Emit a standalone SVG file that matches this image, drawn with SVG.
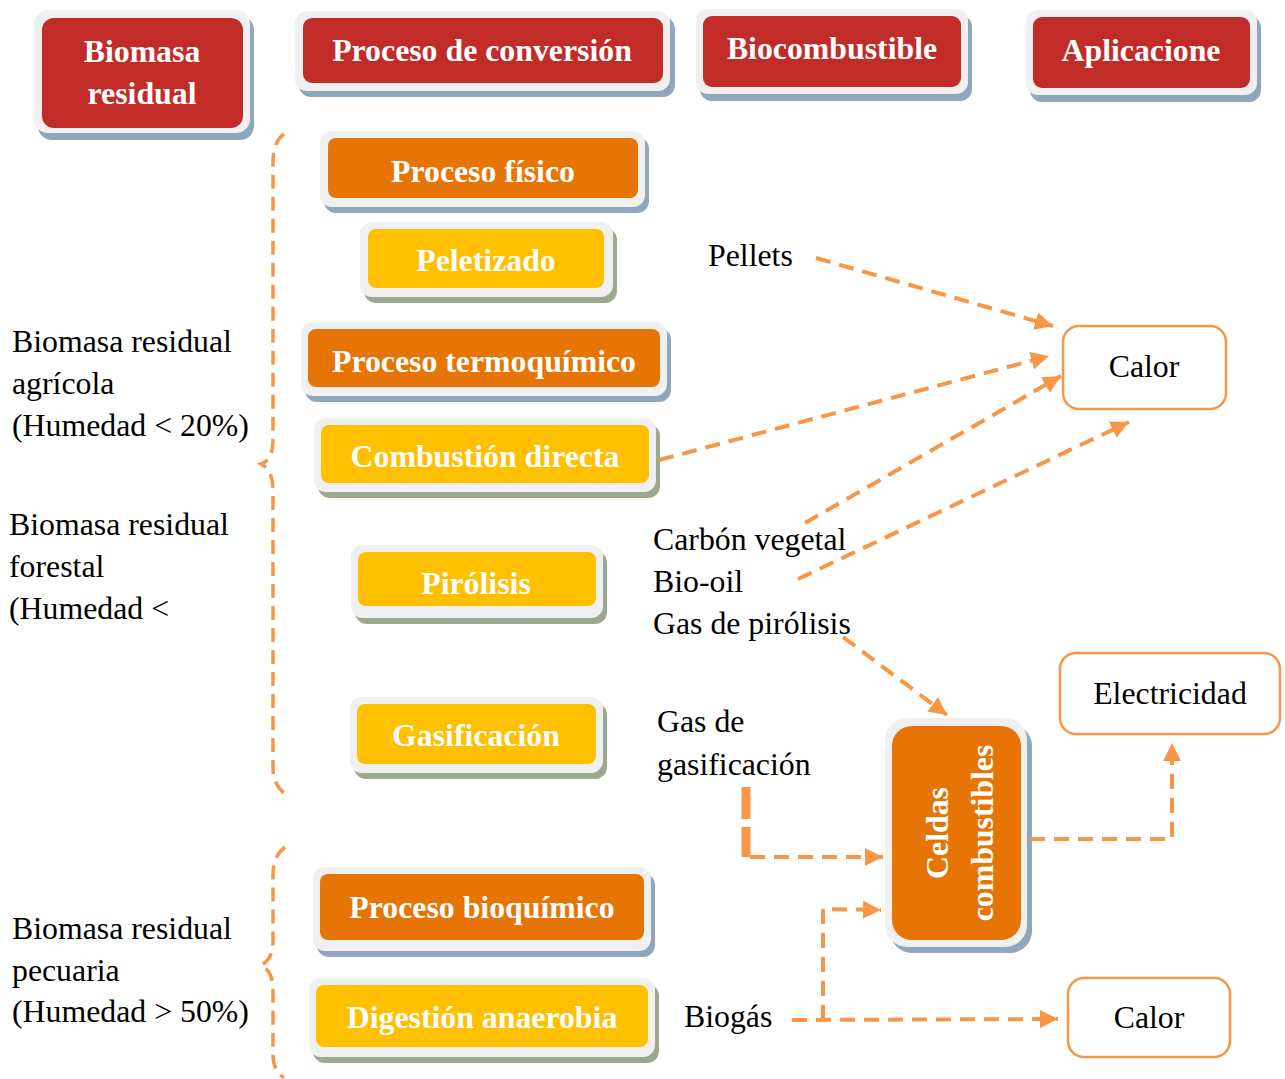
<svg xmlns="http://www.w3.org/2000/svg" width="1285" height="1079" viewBox="0 0 1285 1079">
  <style>
    .sh-b{fill:#8FA6BD}
    .sh-g{fill:#9CA98E}
    .frame{fill:#F0F0F0}
    .red{fill:#C12B28}
    .orange{fill:#E67505}
    .yellow{fill:#FFC000}
    .lbl{font-family:"Liberation Serif","Times New Roman",serif;font-weight:bold;font-size:31.8px;fill:#FFFFFF;text-anchor:middle}
    .txt{font-family:"Liberation Serif","Times New Roman",serif;font-size:31.8px;fill:#000000}
    .mid{text-anchor:middle}
    .out{fill:#FFFFFF;stroke:#F79646;stroke-width:2.5}
    .conn{fill:none;stroke:#F79646;stroke-width:4;stroke-dasharray:15 9}
    .brace{fill:none;stroke:#F79646;stroke-width:3.5;stroke-dasharray:14 8}
  </style>
  <defs>
    <marker id="arrow" markerUnits="userSpaceOnUse" markerWidth="19" markerHeight="18" refX="18" refY="9" orient="auto">
      <path d="M0,0 L18,9 L0,18 z" fill="#F79646"/>
    </marker>
  </defs>

  <!-- column headers -->
  <g id="h-biomasa">
    <rect class="sh-b" x="38" y="16" width="216" height="124" rx="14"/>
    <rect class="frame" x="34" y="10" width="216" height="123" rx="14"/>
    <rect class="red" x="42" y="18" width="201" height="110" rx="12"/>
    <text class="lbl" x="142" y="62">Biomasa</text>
    <text class="lbl" x="142" y="104">residual</text>
  </g>
  <g id="h-proceso">
    <rect class="sh-b" x="299" y="17" width="376" height="80" rx="12"/>
    <rect class="frame" x="295" y="11" width="375" height="80" rx="12"/>
    <rect class="red" x="303" y="18" width="360" height="65" rx="9"/>
    <text class="lbl" x="482" y="61">Proceso de conversión</text>
  </g>
  <g id="h-biocombustible">
    <rect class="sh-b" x="700" y="15" width="272" height="86" rx="12"/>
    <rect class="frame" x="696" y="9" width="272" height="85" rx="12"/>
    <rect class="red" x="703" y="16" width="258" height="71" rx="9"/>
    <text class="lbl" x="832" y="59">Biocombustible</text>
  </g>
  <g id="h-aplicaciones">
    <rect class="sh-b" x="1030" y="16" width="231" height="86" rx="12"/>
    <rect class="frame" x="1026" y="10" width="231" height="85" rx="12"/>
    <rect class="red" x="1033" y="17" width="217" height="71" rx="9"/>
    <text class="lbl" x="1141" y="61">Aplicacione</text>
  </g>

  <!-- process boxes -->
  <g id="p-fisico">
    <rect class="sh-b" x="324" y="137" width="325" height="76" rx="12"/>
    <rect class="frame" x="320" y="131" width="325" height="76" rx="12"/>
    <rect class="orange" x="328" y="138" width="310" height="60" rx="8"/>
    <text class="lbl" x="483" y="182">Proceso físico</text>
  </g>
  <g id="p-peletizado">
    <rect class="sh-g" x="364" y="228" width="253" height="75" rx="12"/>
    <rect class="frame" x="360" y="222" width="253" height="75" rx="12"/>
    <rect class="yellow" x="368" y="229" width="236" height="59" rx="8"/>
    <text class="lbl" x="486" y="271">Peletizado</text>
  </g>
  <g id="p-termoquimico">
    <rect class="sh-b" x="305" y="328" width="366" height="74" rx="12"/>
    <rect class="frame" x="301" y="322" width="366" height="74" rx="12"/>
    <rect class="orange" x="308" y="329" width="352" height="58" rx="8"/>
    <text class="lbl" x="484" y="372">Proceso termoquímico</text>
  </g>
  <g id="p-combustion">
    <rect class="sh-g" x="318" y="424" width="342" height="74" rx="12"/>
    <rect class="frame" x="314" y="418" width="342" height="74" rx="12"/>
    <rect class="yellow" x="321" y="425" width="328" height="58" rx="8"/>
    <text class="lbl" x="485" y="467">Combustión directa</text>
  </g>
  <g id="p-pirolisis">
    <rect class="sh-g" x="355" y="551" width="252" height="73" rx="12"/>
    <rect class="frame" x="351" y="545" width="252" height="73" rx="12"/>
    <rect class="yellow" x="358" y="552" width="238" height="54" rx="8"/>
    <text class="lbl" x="476" y="594">Pirólisis</text>
  </g>
  <g id="p-gasificacion">
    <rect class="sh-g" x="354" y="703" width="253" height="76" rx="12"/>
    <rect class="frame" x="350" y="697" width="253" height="76" rx="12"/>
    <rect class="yellow" x="357" y="704" width="239" height="60" rx="8"/>
    <text class="lbl" x="476" y="746">Gasificación</text>
  </g>
  <g id="p-bioquimico">
    <rect class="sh-b" x="317" y="873" width="338" height="84" rx="12"/>
    <rect class="frame" x="313" y="867" width="338" height="84" rx="12"/>
    <rect class="orange" x="320" y="874" width="324" height="66" rx="8"/>
    <text class="lbl" x="482" y="918">Proceso bioquímico</text>
  </g>
  <g id="p-digestion">
    <rect class="sh-g" x="313" y="984" width="346" height="79" rx="12"/>
    <rect class="frame" x="309" y="978" width="346" height="79" rx="12"/>
    <rect class="yellow" x="316" y="985" width="332" height="62" rx="8"/>
    <text class="lbl" x="482" y="1028">Digestión anaerobia</text>
  </g>
  <g id="p-celdas">
    <rect class="sh-b" x="890" y="724" width="142" height="229" rx="22"/>
    <rect class="frame" x="885" y="718" width="142" height="229" rx="22"/>
    <rect class="orange" x="892" y="726" width="129" height="214" rx="20"/>
    <text class="lbl" transform="translate(948,833) rotate(-90)">Celdas</text>
    <text class="lbl" transform="translate(993,833) rotate(-90)">combustibles</text>
  </g>

  <!-- application boxes -->
  <g id="a-calor1">
    <rect class="out" x="1063" y="326" width="163" height="83" rx="16"/>
    <text class="txt mid" x="1144" y="377">Calor</text>
  </g>
  <g id="a-electricidad">
    <rect class="out" x="1060" y="653" width="220" height="81" rx="16"/>
    <text class="txt mid" x="1170" y="704">Electricidad</text>
  </g>
  <g id="a-calor2">
    <rect class="out" x="1068" y="978" width="162" height="79" rx="16"/>
    <text class="txt mid" x="1149" y="1028">Calor</text>
  </g>

  <!-- biomass source labels -->
  <g id="s-agricola">
    <text class="txt" x="12" y="352">Biomasa residual</text>
    <text class="txt" x="12" y="394">agrícola</text>
    <text class="txt" x="12" y="436">(Humedad &lt; 20%)</text>
  </g>
  <g id="s-forestal">
    <text class="txt" x="9" y="535">Biomasa residual</text>
    <text class="txt" x="9" y="577">forestal</text>
    <text class="txt" x="9" y="619">(Humedad &lt;</text>
  </g>
  <g id="s-pecuaria">
    <text class="txt" x="12" y="939">Biomasa residual</text>
    <text class="txt" x="12" y="981">pecuaria</text>
    <text class="txt" x="12" y="1022">(Humedad &gt; 50%)</text>
  </g>

  <!-- biofuel labels -->
  <g id="f-pellets"><text class="txt" x="708" y="266">Pellets</text></g>
  <g id="f-pirolisis">
    <text class="txt" x="653" y="550">Carbón vegetal</text>
    <text class="txt" x="653" y="592">Bio-oil</text>
    <text class="txt" x="653" y="634">Gas de pirólisis</text>
  </g>
  <g id="f-gasificacion">
    <text class="txt" x="657" y="732">Gas de</text>
    <text class="txt" x="657" y="775">gasificación</text>
  </g>
  <g id="f-biogas"><text class="txt" x="684" y="1027">Biogás</text></g>

  <!-- grouping braces and flow connectors -->
  <g id="connectors">
    <path class="brace" d="M284,134 Q273,142 273,162 L273,440 Q273,460 261,464 Q273,470 273,490 L273,768 Q273,784 284,793"/>
    <path class="brace" d="M285,847 Q273,856 273,875 L273,940 Q273,960 261,965 Q273,971 273,990 L273,1055 Q273,1070 284,1078"/>

    <path class="conn" d="M816,258 L1053,326" marker-end="url(#arrow)"/>
    <path class="conn" d="M659,460 L1049,356" marker-end="url(#arrow)"/>
    <path class="conn" d="M805,523 L1061,376" marker-end="url(#arrow)"/>
    <path class="conn" d="M798,579 L1129,422" marker-end="url(#arrow)"/>
    <path class="conn" d="M843,637 L947,715" marker-end="url(#arrow)"/>

    <path class="conn" d="M746,787 L746,857" style="stroke-width:9;stroke-dasharray:32 8"/>
    <path class="conn" d="M750,857 L883,857" marker-end="url(#arrow)"/>

    <path class="conn" d="M1030,839 L1172,839 L1172,743" marker-end="url(#arrow)"/>

    <path class="conn" d="M792,1020 L1058,1019" marker-end="url(#arrow)"/>
    <path class="conn" d="M823,1020 L823,909 L881,910" marker-end="url(#arrow)"/>
  </g>
</svg>
